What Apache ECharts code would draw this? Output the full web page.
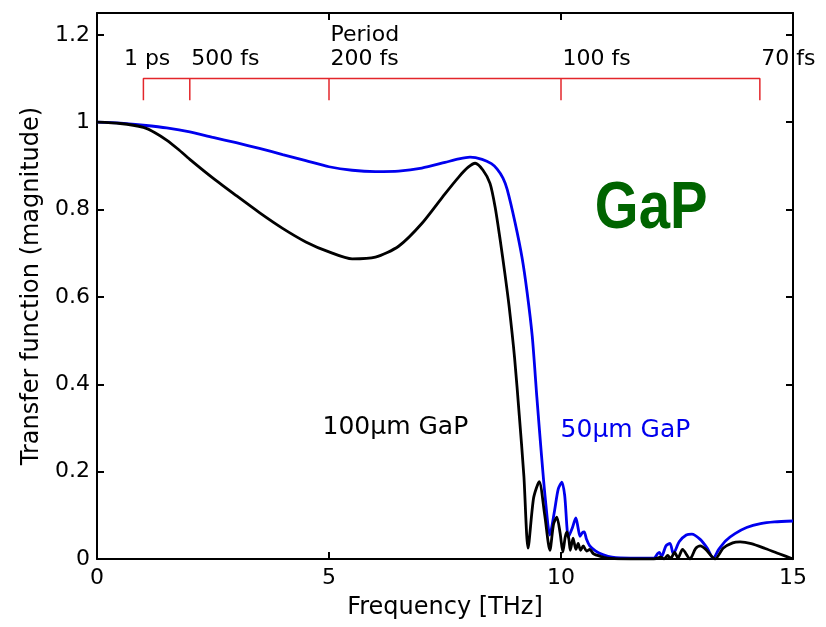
<!DOCTYPE html>
<html><head><meta charset="utf-8">
<script src="https://cdn.jsdelivr.net/npm/echarts@6/dist/echarts.min.js"></script>
<style>html,body{margin:0;padding:0;background:#fff}#c{width:826px;height:627px}</style>
</head><body><div id="c"></div>
<script>
// ---- data ----
const freqBlack = [0,0.5,1.0,1.25,1.5,1.75,2.0,2.5,3.0,3.5,4.0,4.5,5.0,5.5,6.0,6.5,7.0,7.5,7.8,8.0,8.15,8.32,8.47,8.58,8.69,8.79,8.88,9.0,9.1,9.2,9.29,9.41,9.53,9.65,9.76,9.84,9.91,9.98,10.04,10.09,10.13,10.17,10.2,10.26,10.32,10.37,10.42,10.48,10.55,10.62,10.7,10.85,11.0,11.5,12.0,12.15,12.22,12.3,12.36,12.45,12.52,12.62,12.78,12.9,13.0,13.12,13.32,13.5,13.7,13.86,14.1,14.4,14.7,15.0];
const magBlack  = [1.0,0.997,0.988,0.976,0.959,0.938,0.915,0.872,0.832,0.793,0.757,0.726,0.703,0.687,0.691,0.716,0.768,0.836,0.875,0.897,0.906,0.89,0.86,0.806,0.73,0.654,0.58,0.46,0.33,0.19,0.025,0.14,0.177,0.10,0.02,0.08,0.096,0.06,0.016,0.05,0.062,0.045,0.02,0.048,0.022,0.036,0.02,0.03,0.018,0.022,0.012,0.006,0.002,0.0,0.0,0.004,0.0,0.008,0.001,0.015,0.002,0.022,0.0,0.024,0.03,0.022,0.0,0.025,0.037,0.039,0.035,0.024,0.012,0.0];

const freqBlue = [0,0.5,1.0,1.5,2.0,2.5,3.0,3.5,4.0,4.5,5.0,5.5,6.0,6.5,7.0,7.5,7.8,8.04,8.3,8.5,8.62,8.75,8.84,9.01,9.16,9.27,9.38,9.48,9.57,9.66,9.76,9.86,9.94,10.02,10.08,10.16,10.24,10.32,10.37,10.41,10.46,10.5,10.55,10.62,10.75,10.9,11.1,11.5,12.0,12.08,12.12,12.17,12.26,12.35,12.42,12.55,12.7,12.82,13.0,13.15,13.28,13.4,13.55,13.75,14.0,14.3,14.6,15.0];
const magBlue  = [1.0,0.998,0.993,0.987,0.978,0.965,0.953,0.94,0.926,0.912,0.898,0.89,0.887,0.888,0.895,0.908,0.916,0.92,0.915,0.905,0.893,0.872,0.846,0.77,0.69,0.61,0.51,0.37,0.25,0.14,0.055,0.11,0.16,0.176,0.145,0.05,0.07,0.094,0.07,0.052,0.06,0.062,0.045,0.03,0.018,0.01,0.004,0.002,0.002,0.012,0.015,0.006,0.03,0.036,0.012,0.04,0.055,0.057,0.045,0.025,0.002,0.022,0.042,0.058,0.072,0.081,0.085,0.087];

const periodFreqTHz = [1, 2, 5, 10, 1000/70];
const periodLabels  = ['1 ps', '500 fs', '200 fs', '100 fs', '70 fs'];
const periodTitle = 'Period';

const xTicks = [0, 5, 10, 15];
const yTicks = [0, 0.2, 0.4, 0.6, 0.8, 1, 1.2];

const labelBlack = '100\u03bcm GaP';
const labelBlue  = '50\u03bcm GaP';
const labelMaterial = 'GaP';

// ---- chart ----
const FONT = 'DejaVu Sans';
const zip = (a, b) => a.map((v, i) => [v, b[i]]);
const bracketTop = 1.1, bracketBottom = 1.05, periodTextLevel = 1.144, periodTitleLevel = 1.199;

const bracket = [];
periodFreqTHz.forEach((f, i) => {
  if (i === 0) { bracket.push([f, bracketBottom], [f, bracketTop]); return; }
  bracket.push([f, bracketTop], [f, bracketBottom]);
  if (i < periodFreqTHz.length - 1) bracket.push([f, bracketTop]);
});

const lineAx = {show: true, onZero: false, lineStyle: {color: '#000', width: 2}};
const tickIn = {show: true, inside: true, length: 7, lineStyle: {color: '#000', width: 2}};
const lab = {fontFamily: FONT, fontSize: 22, color: '#000'};
const hidden = {color: 'rgba(0,0,0,0)', opacity: 1};

const chart = echarts.init(document.getElementById('c'), null, {renderer: 'canvas'});
chart.setOption({
  animation: false,
  backgroundColor: '#fff',
  grid: {left: 97, right: 33, top: 13, bottom: 68},
  xAxis: [
    {type: 'value', min: xTicks[0], max: xTicks[xTicks.length - 1], interval: 5, position: 'bottom',
     name: 'Frequency [THz]', nameLocation: 'middle', nameGap: 37,
     nameTextStyle: {fontFamily: FONT, fontSize: 24, color: '#000'},
     axisLine: lineAx, axisTick: tickIn, axisLabel: Object.assign({margin: 8}, lab), splitLine: {show: false}},
    {type: 'value', min: xTicks[0], max: xTicks[xTicks.length - 1], interval: 5, position: 'top',
     axisLine: lineAx, axisTick: tickIn, axisLabel: {show: false}, splitLine: {show: false}}
  ],
  yAxis: [
    {type: 'value', min: 0, max: 1.25, interval: 0.2, position: 'left',
     name: 'Transfer function (magnitude)', nameLocation: 'middle', nameGap: 50,
     nameTextStyle: {fontFamily: FONT, fontSize: 24, color: '#000'},
     axisLine: lineAx, axisTick: tickIn, axisLabel: Object.assign({margin: 7, showMaxLabel: false}, lab),
     splitLine: {show: false}},
    {type: 'value', min: 0, max: 1.25, interval: 0.2, position: 'right',
     axisLine: lineAx, axisTick: tickIn, axisLabel: {show: false}, splitLine: {show: false}}
  ],
  series: [
    {type: 'line', name: 'period bracket', data: bracket, symbol: 'none', silent: true,
     lineStyle: {color: '#e3262b', width: 1.5}, z: 2},
    {type: 'line', name: '50um', data: zip(freqBlue, magBlue), symbol: 'none', smooth: 0.25,
     lineStyle: {color: '#0000ee', width: 2.8}, z: 3},
    {type: 'line', name: '100um', data: zip(freqBlack, magBlack), symbol: 'none', smooth: 0.25,
     lineStyle: {color: '#000', width: 2.8}, z: 4},
    {type: 'scatter', name: 'period labels', symbolSize: 1, itemStyle: hidden, silent: true,
     data: periodFreqTHz.map((f, i) => ({value: [f, periodTextLevel], name: periodLabels[i],
        label: i === 0 ? {offset: [-21, 0]} : {}})).concat([{value: [periodFreqTHz[2], periodTitleLevel], name: periodTitle}]),
     label: {show: true, position: 'right', distance: 1, formatter: '{b}', fontFamily: FONT, fontSize: 22, color: '#000', opacity: 1}},
    {type: 'scatter', name: 'annotations', symbolSize: 1, itemStyle: hidden, silent: true,
     label: {show: true, position: 'right', distance: 0, formatter: '{b}', opacity: 1},
     data: [
       {value: [4.85, 0.302], name: labelBlack, label: {fontFamily: FONT, fontSize: 25, color: '#000'}},
       {value: [9.98, 0.295], name: labelBlue, label: {fontFamily: FONT, fontSize: 25, color: '#0000ee'}}
     ]}
  ]
});
// material label, placed at a data position and horizontally condensed like the reference
const gp = chart.convertToPixel({gridIndex: 0}, [10.73, 0.801]);
chart.setOption({graphic: [{type: 'text', x: gp[0], y: gp[1], scaleX: 0.84, silent: true,
  style: {text: labelMaterial, fill: '#006400', font: "bold 67px 'Liberation Sans', Arial, sans-serif",
          textAlign: 'left', textVerticalAlign: 'middle'}}]});
</script></body></html>
